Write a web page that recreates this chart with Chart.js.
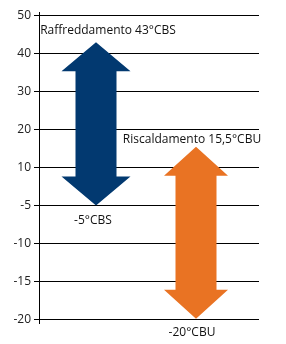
<!DOCTYPE html>
<html>
<head>
<meta charset="utf-8">
<script src="https://cdn.jsdelivr.net/npm/chart.js@4"></script>
<style>
  html, body { margin: 0; padding: 0; background: #fff; }
  canvas { display: block; }
</style>
</head>
<body>
<canvas id="chart" width="286" height="344"></canvas>
<script>
// tick labels on the y axis (equally spaced, not a linear scale)
const tickValues = [50, 40, 30, 20, 10, -5, -10, -15, -20]
const series = ['Raffreddamento', 'Riscaldamento']
const highs = [43, 15.5]
const lows = [-5, -20]
const topLabels = ['Raffreddamento 43°CBS', 'Riscaldamento 15,5°CBU']
const bottomLabels = ['-5°CBS', '-20°CBU']
const colors = ['#023970', '#e97323']

const FONT = '"Open Sans", sans-serif'

// value -> position along the equally spaced ticks
const toPos = (v) => {
    const n = tickValues.length - 1
    for (let i = 0; i < n; i++) {
        const a = tickValues[i], b = tickValues[i + 1]
        if (v <= a && v >= b) return n - (i + (a - v) / (a - b))
    }
    return v > tickValues[0] ? n : 0
}

const headW = [69, 64]
const headH = [29, 29]
const topDx = [12, -4], topDy = [-12, -7]
const botDx = [-3, -4], botDy = [15, 14]

const arrows = {
    id: 'arrows',
    afterDatasetsDraw(chart) {
        const ctx = chart.ctx
        const meta = chart.getDatasetMeta(0)
        meta.data.forEach((bar, i) => {
            const x = bar.x
            const top = Math.min(bar.y, bar.base)
            const bottom = Math.max(bar.y, bar.base)
            const sw = bar.width / 2
            const hw = headW[i] / 2
            const hh = headH[i]
            ctx.save()
            ctx.fillStyle = colors[i]
            ctx.beginPath()
            ctx.moveTo(x, top)
            ctx.lineTo(x + hw, top + hh)
            ctx.lineTo(x + sw, top + hh)
            ctx.lineTo(x + sw, bottom - hh)
            ctx.lineTo(x + hw, bottom - hh)
            ctx.lineTo(x, bottom)
            ctx.lineTo(x - hw, bottom - hh)
            ctx.lineTo(x - sw, bottom - hh)
            ctx.lineTo(x - sw, top + hh)
            ctx.lineTo(x - hw, top + hh)
            ctx.closePath()
            ctx.fill()

            ctx.fillStyle = '#111'
            ctx.font = '12px ' + FONT
            ctx.textAlign = 'center'
            ctx.textBaseline = 'middle'
            ctx.fillText(topLabels[i], x + topDx[i], top + topDy[i])
            ctx.fillText(bottomLabels[i], x + botDx[i], bottom + botDy[i])
            ctx.restore()
        })
    }
}

const chart = new Chart(document.querySelector('#chart'), {
    type: 'bar',
    data: {
        datasets: [{
            label: 'Intervallo',
            data: series.map((s, i) => ({ x: i, y: [toPos(lows[i]), toPos(highs[i])] })),
            backgroundColor: 'rgba(0,0,0,0)',
            borderWidth: 0,
            barThickness: 41
        }]
    },
    options: {
        responsive: false,
        animation: false,
        layout: { padding: { top: 12, bottom: 21, left: 0, right: 27 } },
        plugins: {
            legend: { display: false },
            tooltip: { enabled: false }
        },
        scales: {
            x: {
                type: 'linear',
                offset: false,
                min: -0.57,
                max: 1.63,
                display: false
            },
            y: {
                min: -0.1,
                max: tickValues.length - 1 + 0.1,
                afterBuildTicks: (scale) => {
                    scale.ticks = tickValues.map((v, i) => ({ value: i }))
                },
                afterFit: (scale) => { scale.width = 39 },
                border: { display: true, color: '#000', width: 1 },
                grid: {
                    color: '#000',
                    lineWidth: 1,
                    tickLength: 5,
                    drawTicks: true
                },
                ticks: {
                    padding: 3,
                    color: '#222',
                    font: { family: FONT, size: 12 },
                    callback: (v) => tickValues[tickValues.length - 1 - v]
                }
            }
        }
    },
    plugins: [arrows]
})
</script>
</body>
</html>
